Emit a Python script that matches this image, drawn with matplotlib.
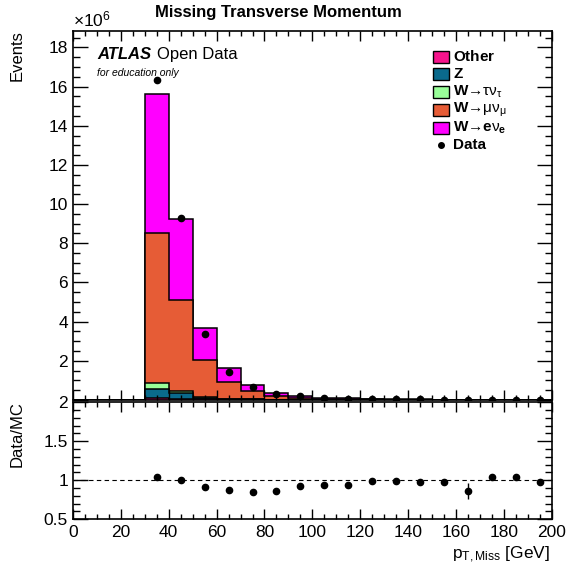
import matplotlib
matplotlib.use("Agg")
import matplotlib.pyplot as plt
import numpy as np
from matplotlib.patches import Rectangle
from matplotlib.ticker import MultipleLocator, FixedLocator, FixedFormatter

plt.rcParams["font.family"] = ["Liberation Sans", "DejaVu Sans"]
plt.rcParams["mathtext.fontset"] = "custom"
plt.rcParams["mathtext.rm"] = "Liberation Sans"
plt.rcParams["mathtext.it"] = "Liberation Sans:italic"
plt.rcParams["mathtext.bf"] = "Liberation Sans:bold"

# 10 GeV bins, 0-200 GeV; yields in units of 1e6 events
edges = np.arange(0, 201, 10)
other = [0, 0, 0, 0.12, 0.06, 0.03, 0.02, 0.010, 0.006, 0.004, 0.003, 0.002,
         0.0015, 0.001, 0.0008, 0.0006, 0.0005, 0.0004, 0.0003, 0.0002]
z_ll = [0, 0, 0, 0.43, 0.30, 0.08, 0.03, 0.015, 0.008, 0.005, 0.003, 0.002,
        0.0015, 0.001, 0.0007, 0.0005, 0.0004, 0.0003, 0.0002, 0.0002]
w_tau = [0, 0, 0, 0.30, 0.10, 0.04, 0.02, 0.010, 0.006, 0.004, 0.002, 0.001,
         0.001, 0.0007, 0.0005, 0.0004, 0.0003, 0.0002, 0.0002, 0.0001]
w_mu = [0, 0, 0, 7.69, 4.64, 1.89, 0.86, 0.425, 0.20, 0.107, 0.062, 0.040,
        0.026, 0.018, 0.013, 0.0095, 0.0068, 0.0053, 0.0042, 0.0032]
w_e = [0, 0, 0, 7.09, 4.13, 1.65, 0.72, 0.300, 0.15, 0.080, 0.050, 0.030,
       0.020, 0.0143, 0.010, 0.007, 0.0050, 0.0038, 0.0031, 0.0023]
data = [0, 0, 0, 16.33, 9.29, 3.39, 1.45, 0.645, 0.318, 0.186, 0.113, 0.0705,
        0.0493, 0.0346, 0.0244, 0.01755, 0.01118, 0.0104, 0.00828, 0.00588]
data_err = [0, 0, 0, 0.004, 0.003, 0.002, 0.0012, 0.0008, 0.0006, 0.0004, 0.0003, 0.0002,
            0.0002, 0.00015, 0.00012, 0.0001, 0.0013, 0.00008, 0.00007, 0.00006]

labels = [r"$\mathbf{Other}$", r"$\mathbf{Z}$",
          r"$\mathbf{W}\mathregular{→τν}_{\mathregular{τ}}$",
          r"$\mathbf{W}\mathregular{→μν}_{\mathregular{μ}}$",
          r"$\mathbf{W}\mathregular{→}\mathbf{e}\mathregular{ν}_{\mathbf{e}}$"]
colors = ["#f5148c", "#0a6a8c", "#99ff99", "#e65c36", "#ff00ff"]
samples = [other, z_ll, w_tau, w_mu, w_e]

fig = plt.figure(figsize=(5.70, 5.73), dpi=100)
ax = fig.add_axes([0.128, 0.302, 0.840, 0.644])
axr = fig.add_axes([0.128, 0.094, 0.840, 0.204])

# stacked MC, drawn from the top layer down so each lower layer covers the one above
cum = np.cumsum([np.asarray(s) for s in samples], axis=0)
for i in range(len(samples) - 1, -1, -1):
    ax.stairs(cum[i], edges, fill=True, color=colors[i], lw=0)
    ax.stairs(cum[i], edges, color="black", lw=1.1)

centres = 0.5 * (edges[:-1] + edges[1:])
d = np.asarray(data)
de = np.asarray(data_err)
mask = d > 0
ax.errorbar(centres[mask], d[mask], yerr=de[mask], fmt="o", color="black",
            ms=4.5, elinewidth=1, capsize=0)

total = cum[-1]
ratio = d[mask] / total[mask]
ratio_err = de[mask] / total[mask]
axr.errorbar(centres[mask], ratio, yerr=ratio_err, fmt="o", color="black",
             ms=4.5, elinewidth=1, capsize=0)
axr.axhline(1.0, color="black", ls=(0, (4, 3)), lw=0.8)

ax.set_xlim(0, 200)
ax.set_ylim(0, 18.84)
axr.set_xlim(0, 200)
axr.set_ylim(0.5, 2.0)

for a in (ax, axr):
    a.xaxis.set_major_locator(MultipleLocator(20))
    a.xaxis.set_minor_locator(MultipleLocator(5))
    a.tick_params(which="both", direction="in", top=True, right=True, labelsize=12.5)
    a.tick_params(axis="x", which="major", length=7, width=1)
    a.tick_params(axis="x", which="minor", length=3.6, width=1)
    a.tick_params(axis="y", which="major", length=10.5, width=1)
    a.tick_params(axis="y", which="minor", length=5, width=1)
    for s in a.spines.values():
        s.set_linewidth(1.2)

ax.yaxis.set_major_locator(FixedLocator([0, 2, 4, 6, 8, 10, 12, 14, 16, 18]))
ax.yaxis.set_major_formatter(FixedFormatter(["", "2", "4", "6", "8", "10", "12", "14", "16", "18"]))
ax.yaxis.set_minor_locator(MultipleLocator(0.5))
ax.tick_params(labelbottom=False)

axr.yaxis.set_major_locator(FixedLocator([0.5, 1.0, 1.5, 2.0]))
axr.yaxis.set_major_formatter(FixedFormatter(["0.5", "1", "1.5", "2"]))
axr.yaxis.set_minor_locator(MultipleLocator(0.1))
axr.tick_params(axis="x", pad=4)

fig.text(0.488, 0.978, "Missing Transverse Momentum", ha="center", va="center",
         fontsize=12, fontweight="bold")
fig.text(0.128, 0.966, r"$\times$10$^{6}$", ha="left", va="center", fontsize=12.5)
fig.text(0.030, 0.948, "Events", ha="center", va="top", rotation=90, fontsize=12)
fig.text(0.030, 0.300, "Data/MC", ha="center", va="top", rotation=90, fontsize=12)
fig.text(0.965, 0.032, r"p$_{\mathregular{T,Miss}}$ [GeV]", ha="right", va="center",
         fontsize=12.5)

ax.text(0.050, 0.937, "ATLAS", transform=ax.transAxes, fontsize=12,
        fontweight="bold", fontstyle="italic", va="center")
ax.text(0.176, 0.937, "Open Data", transform=ax.transAxes, fontsize=12, va="center")
ax.text(0.050, 0.885, "for education only", transform=ax.transAxes, fontsize=7.5,
        fontstyle="italic", va="center")

# legend, laid out row by row in axes coordinates
row_y = [0.930, 0.884, 0.835, 0.786, 0.737, 0.691]
for lab, col, y in zip(labels, colors, row_y[:5]):
    ax.add_patch(Rectangle((0.7516, y - 0.016), 0.0334, 0.032, transform=ax.transAxes,
                           facecolor=col, edgecolor="black", lw=1, clip_on=False))
    ax.text(0.793, y, lab, transform=ax.transAxes, fontsize=11,
            va="center", ha="left")
ax.plot([0.768], [row_y[5]], "o", color="black", ms=4, transform=ax.transAxes)
ax.text(0.793, row_y[5], "Data", transform=ax.transAxes, fontsize=11, fontweight="bold",
        va="center", ha="left")

fig.savefig("out.png", dpi=100)
